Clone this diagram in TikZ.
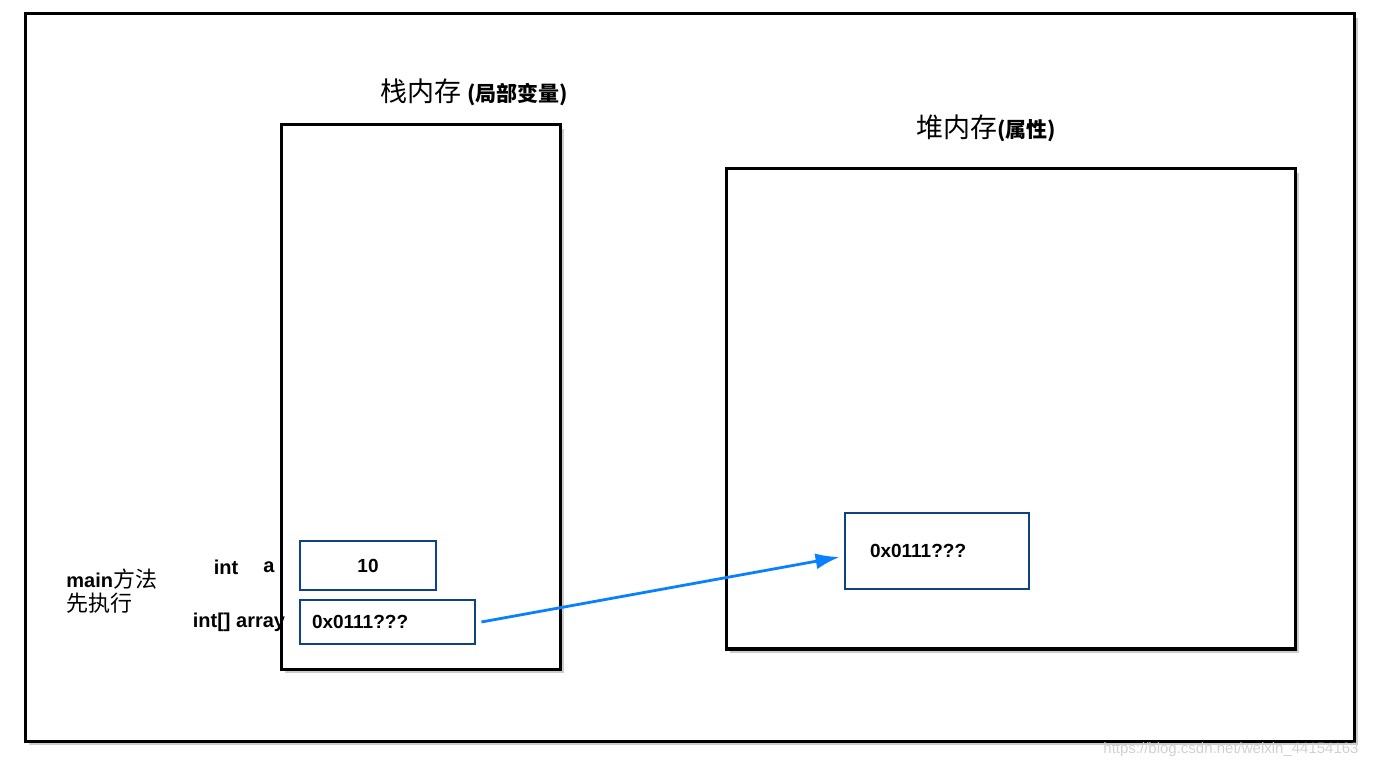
\documentclass[tikz,border=0pt]{standalone}
\usepackage{fontspec}
\setmainfont{Liberation Sans}
\newfontfamily\cjk{Noto Sans CJK SC}
\usetikzlibrary{arrows.meta,fit,shadows}
\definecolor{boxblue}{HTML}{0E4382}
\definecolor{ptrblue}{HTML}{0A80FF}
\tikzset{
  bigbox/.style={draw=black, fill=white, line width=1.5pt, inner sep=0pt,
    drop shadow={shadow xshift=2pt, shadow yshift=-2pt, opacity=0.4, fill=black!50}},
  valbox/.style={draw=boxblue, line width=1.4pt, font=\bfseries\fontsize{9.5}{11}\selectfont},
  lbl/.style={font=\bfseries\fontsize{10}{12}\selectfont, inner sep=0pt},
  ptr/.style={ptrblue, line width=1.4pt, -{Latex[length=12pt,width=8pt]}}
}
\begin{document}
\begin{tikzpicture}[x=0.5pt, y=-0.5pt]
  \useasboundingbox (0,0) rectangle (1376,769);
  % 外框
  \node[bigbox, fit={(25,14) (1354,741)}] (frame) {};
  % 栈内存 与 堆内存
  \node[bigbox, fit={(281,125) (560,669)}] (stack) {};
  \node[bigbox, fit={(726,169) (1295,649)}] (heap) {};
  \node (stacktitle) at (474,92) {\cjk\fontsize{13.5}{15}\selectfont 栈内存 {\bfseries\fontsize{10.5}{12}\selectfont (局部变量)}};
  \node (heaptitle) at (986,128) {\cjk\fontsize{13.5}{15}\selectfont 堆内存{\bfseries\fontsize{10.5}{12}\selectfont (属性)}};

  % 变量
  \node[valbox, minimum width=68pt, minimum height=24.5pt] (a) at (368,565.5) {10};
  \node[valbox, minimum height=22pt, inner xsep=6pt, text width=75.5pt, align=left] (arr) at (387.5,622) {0x0111???};
  \node[valbox, minimum height=38pt, inner xsep=12.5pt, text width=67pt, align=left] (heapval) at (937,551) {0x0111???};

  % 左侧标签
  \node[lbl] (inta) at (226,567) {int};
  \node[lbl] (namea) at (269,567) {a};
  \node[lbl] (intarr) at (239,622) {int[] array};
  \node[lbl, anchor=west, align=left] (mainlbl) at (66,591)
    {{\fontsize{10}{13}\selectfont main{\cjk\mdseries\fontsize{11}{13}\selectfont 方法}}\\{\cjk\mdseries\fontsize{11}{13}\selectfont 先执行}};

  % 引用
  \draw[ptr] ([xshift=2.5pt]arr.east) -- ([xshift=-2pt,yshift=-3pt]heapval.west);

  % 水印
  \node[text=black!18, font=\fontsize{7.5}{9}\selectfont] (mark) at (1231,750) {https://blog.csdn.net/weixin\_44154163};
\end{tikzpicture}
\end{document}
